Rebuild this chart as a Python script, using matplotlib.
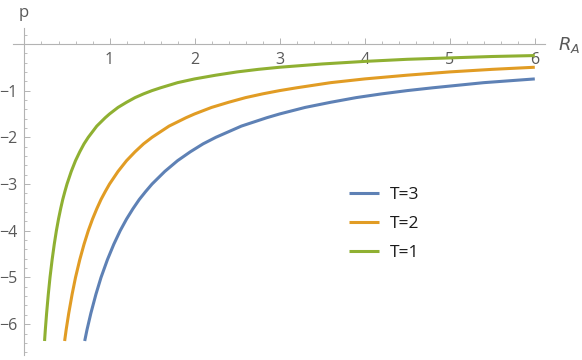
import matplotlib
matplotlib.use('Agg')
import matplotlib.pyplot as plt
from matplotlib.ticker import MultipleLocator

# ── Data (p vs R_A for three temperatures) ───────────────────────────────────
r_t1 = [0.236, 0.245, 0.26, 0.28, 0.30, 0.325, 0.35, 0.375, 0.40, 0.425, 0.45, 0.475, 0.50,
        0.55, 0.60, 0.65, 0.70, 0.75, 0.80, 0.85, 0.90, 0.95, 1.0, 1.1, 1.2, 1.3, 1.4, 1.5,
        1.6, 1.8, 2.0, 2.25, 2.5, 2.75, 3.0, 3.5, 4.0, 4.5, 5.0, 5.5, 6.0]
p_t1 = [-6.36, -6.12, -5.77, -5.36, -5.0, -4.62, -4.29, -4.0, -3.75, -3.53, -3.33, -3.16, -3.0,
        -2.73, -2.5, -2.31, -2.14, -2.0, -1.88, -1.76, -1.67, -1.58, -1.5, -1.36, -1.25, -1.15,
        -1.07, -1.0, -0.94, -0.83, -0.75, -0.67, -0.60, -0.545, -0.50, -0.43, -0.375, -0.33,
        -0.30, -0.27, -0.25]

r_t2 = [0.472, 0.49, 0.52, 0.56, 0.60, 0.65, 0.70, 0.75, 0.80, 0.85, 0.90, 0.95, 1.0,
        1.1, 1.2, 1.3, 1.4, 1.5, 1.6, 1.7, 1.8, 1.9, 2.0, 2.2, 2.4, 2.6, 2.8, 3.0,
        3.2, 3.6, 4.0, 4.5, 5.0, 5.5, 6.0]
p_t2 = [-6.36, -6.12, -5.77, -5.36, -5.0, -4.62, -4.29, -4.0, -3.75, -3.53, -3.33, -3.16, -3.0,
        -2.73, -2.5, -2.31, -2.14, -2.0, -1.88, -1.76, -1.67, -1.58, -1.5, -1.36, -1.25, -1.15,
        -1.07, -1.0, -0.94, -0.83, -0.75, -0.67, -0.60, -0.545, -0.50]

r_t3 = [0.708, 0.735, 0.78, 0.84, 0.90, 0.975, 1.05, 1.125, 1.2, 1.275, 1.35, 1.425, 1.5,
        1.65, 1.8, 1.95, 2.1, 2.25, 2.4, 2.55, 2.7, 2.85, 3.0, 3.3, 3.6, 3.9, 4.2, 4.5,
        4.8, 5.4, 6.0]
p_t3 = [-6.36, -6.12, -5.77, -5.36, -5.0, -4.62, -4.29, -4.0, -3.75, -3.53, -3.33, -3.16, -3.0,
        -2.73, -2.5, -2.31, -2.14, -2.0, -1.88, -1.76, -1.67, -1.58, -1.5, -1.36, -1.25, -1.15,
        -1.07, -1.0, -0.94, -0.83, -0.75]

labels = ['T=3', 'T=2', 'T=1']
colors = ['#5e81b5', '#e19c24', '#8fb032']

W, H = 582, 360
AXC, TXT = '#b3b3b3', '#595959'
plt.rcParams['font.family'] = ['Open Sans', 'DejaVu Sans']
plt.rcParams['mathtext.fontset'] = 'dejavusans'

fig = plt.figure(figsize=(W / 100, H / 100), dpi=100)
# axes box in pixels: left 13, right 545, top 28, bottom 355
ax = fig.add_axes([13 / W, 1 - 355 / H, (545 - 13) / W, (355 - 28) / H])
ax.set_xlim(-0.135, 6.12)
ax.set_ylim(-6.66, 0.34)

for r, p, lab, c in zip([r_t3, r_t2, r_t1], [p_t3, p_t2, p_t1], labels, colors):
    ax.plot(r, p, color=c, lw=2.2, label=lab, solid_capstyle='butt',
            solid_joinstyle='round', clip_on=False)

# Mathematica-style axes through the origin
for s in ('top', 'right'):
    ax.spines[s].set_visible(False)
ax.spines['left'].set_position(('data', 0))
ax.spines['bottom'].set_position(('data', 0))
for s in ('left', 'bottom'):
    ax.spines[s].set_color(AXC)
    ax.spines[s].set_linewidth(0.8)

ax.set_xticks([1, 2, 3, 4, 5, 6])
ax.set_yticks([-1, -2, -3, -4, -5, -6])
ax.set_yticklabels(['\u22121', '\u22122', '\u22123', '\u22124', '\u22125', '\u22126'])
ax.xaxis.set_minor_locator(MultipleLocator(0.2))
ax.yaxis.set_minor_locator(MultipleLocator(0.2))
ax.tick_params(which='major', direction='in', length=4, width=0.7, color=AXC,
               labelsize=11.5, labelcolor=TXT)
ax.tick_params(which='minor', direction='in', length=2.3, width=0.6, color=AXC)
ax.tick_params(axis='x', which='major', pad=6)
ax.tick_params(axis='y', which='major', pad=5)

fig.text(24 / W, 1 - 13 / H, 'p', ha='center', va='center', size=12, color=TXT)
fig.text(558 / W, 1 - 45 / H, '$R_A$', ha='left', va='center', size=13, color=TXT)

ax.legend(loc='upper left', bbox_to_anchor=(340 / W, 1 - 178 / H),
          bbox_transform=fig.transFigure, frameon=False, fontsize=12.5,
          handlelength=1.75, handletextpad=0.6, labelspacing=0.75,
          labelcolor='#1a1a1a', borderpad=0)

fig.savefig('out.png', dpi=100)
